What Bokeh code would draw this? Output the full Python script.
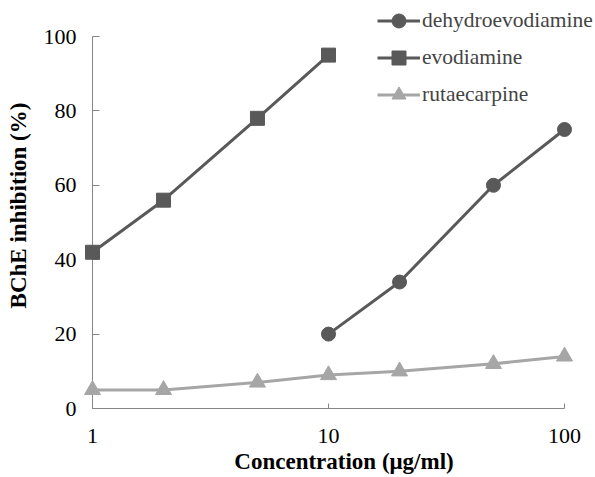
from bokeh.plotting import figure
from bokeh.models import Range1d, FixedTicker, Legend, LegendItem
from bokeh.embed import file_html
from bokeh.resources import INLINE

# ---- data ----
conc_dehydro = [10, 20, 50, 100]
inh_dehydro = [20, 34, 60, 75]
conc_evo = [1, 2, 5, 10]
inh_evo = [42, 56, 78, 95]
conc_ruta = [1, 2, 5, 10, 20, 50, 100]
inh_ruta = [5, 5, 7, 9, 10, 12, 14]

series_names = ["dehydroevodiamine", "evodiamine", "rutaecarpine"]
x_ticks = [1, 10, 100]
x_tick_labels = ["1", "10", "100"]
y_ticks = [0, 20, 40, 60, 80, 100]
y_tick_labels = ["0", "20", "40", "60", "80", "100"]

# ---- layout ----
W, H = 595, 477
BL, BR, BT, BB = 92, 0, 2, 69
PX_DEC = 236.0      # pixels per decade on x
PX_UNIT = 3.72      # pixels per % on y
x_end = 10 ** (2 + (W - BR - 564) / PX_DEC)   # room on the right for the legend
y_end = 100 + (36 - BT) / PX_UNIT             # room on top for the legend

p = figure(width=W, height=H, x_axis_type="log",
           x_range=Range1d(1, x_end), y_range=Range1d(0, y_end),
           output_backend="svg", toolbar_location=None,
           min_border_left=BL, min_border_right=BR,
           min_border_top=BT, min_border_bottom=BB)
p.outline_line_color = None
p.xgrid.visible = False
p.ygrid.visible = False

DARK = "#595959"
LIGHT = "#a6a6a6"
AX = "#868686"
FONT = "Liberation Serif"

l1 = p.line(conc_dehydro, inh_dehydro, line_color=DARK, line_width=3, level="overlay")
s1 = p.scatter(conc_dehydro, inh_dehydro, marker="circle", size=14,
               fill_color=DARK, line_color=DARK, level="overlay")
l2 = p.line(conc_evo, inh_evo, line_color=DARK, line_width=3, level="overlay")
s2 = p.scatter(conc_evo, inh_evo, marker="square", size=14,
               fill_color=DARK, line_color=DARK, level="overlay")
l3 = p.line(conc_ruta, inh_ruta, line_color=LIGHT, line_width=3, level="overlay")
s3 = p.scatter(conc_ruta, inh_ruta, marker="triangle", size=16,
               fill_color=LIGHT, line_color=LIGHT, level="overlay")

# axes
xa = p.xaxis[0]
ya = p.yaxis[0]
xa.bounds = (1, 100)
ya.bounds = (0, 100)
xa.ticker = FixedTicker(ticks=x_ticks, minor_ticks=[])
ya.ticker = FixedTicker(ticks=y_ticks, minor_ticks=[])
xa.major_label_overrides = dict(zip(x_ticks, x_tick_labels))
ya.major_label_overrides = dict(zip(y_ticks, y_tick_labels))
for ax in (xa, ya):
    ax.axis_line_color = AX
    ax.major_tick_line_color = AX
    ax.minor_tick_line_color = None
    ax.major_tick_out = 0
    ax.major_label_text_font = FONT
    ax.major_label_text_font_size = "22px"
    ax.major_label_text_color = "black"
    ax.major_label_text_line_height = 1.0
    ax.axis_label_text_font = FONT
    ax.axis_label_text_font_size = "23px"
    ax.axis_label_text_font_style = "bold"
    ax.axis_label_text_color = "black"
    ax.axis_label_text_line_height = 1.0
xa.major_tick_in = 5
ya.major_tick_in = 7
xa.major_label_standoff = 20
ya.major_label_standoff = 16
xa.axis_label = "Concentration (\u03bcg/ml)"
ya.axis_label = "BChE inhibition (%)"
xa.axis_label_standoff = 3
ya.axis_label_standoff = 10

legend = Legend(items=[
    LegendItem(label=series_names[0], renderers=[l1, s1]),
    LegendItem(label=series_names[1], renderers=[l2, s2]),
    LegendItem(label=series_names[2], renderers=[l3, s3]),
], location=(285, 296))
legend.label_text_font = FONT
legend.label_text_font_size = "21.5px"
legend.glyph_width = 43
legend.glyph_height = 35
legend.label_height = 20
legend.label_standoff = 2
legend.spacing = 2
legend.padding = 0
legend.margin = 0
legend.border_line_color = None
legend.background_fill_alpha = 0
p.add_layout(legend)

open("out.html", "w").write(file_html(p, INLINE))
